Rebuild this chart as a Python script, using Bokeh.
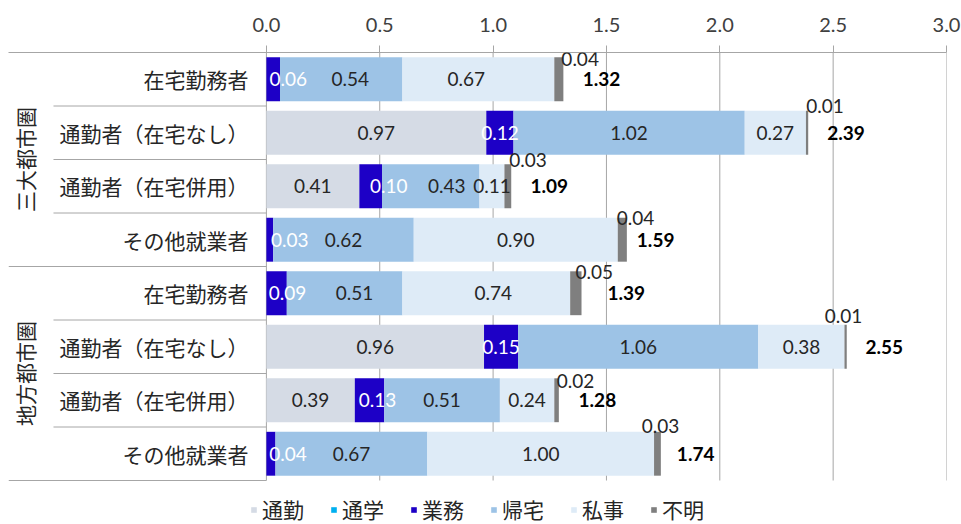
import math
from bokeh.plotting import figure
from bokeh.models import (ColumnDataSource, Range1d, FixedTicker, Legend, LegendItem,
                          CustomJSTickFormatter, LabelSet)
from bokeh.core.properties import value
from bokeh.embed import file_html
from bokeh.resources import INLINE

# ---------------- data ----------------
groups = ["三大都市圏", "地方都市圏"]
categories = ["在宅勤務者", "通勤者（在宅なし）", "通勤者（在宅併用）", "その他就業者"]
series = ["通勤", "通学", "業務", "帰宅", "私事", "不明"]
tsukin = [0.00, 0.97, 0.41, 0.00, 0.00, 0.96, 0.39, 0.00]
tsugaku = [0.00, 0.00, 0.00, 0.00, 0.00, 0.00, 0.00, 0.00]
gyomu = [0.06, 0.12, 0.10, 0.03, 0.09, 0.15, 0.13, 0.04]
kitaku = [0.54, 1.02, 0.43, 0.62, 0.51, 1.06, 0.51, 0.67]
shiji = [0.67, 0.27, 0.11, 0.90, 0.74, 0.38, 0.24, 1.00]
fumei = [0.04, 0.01, 0.03, 0.04, 0.05, 0.01, 0.02, 0.03]
totals = [1.32, 2.39, 1.09, 1.59, 1.39, 2.55, 1.28, 1.74]
ticks = [0.0, 0.5, 1.0, 1.5, 2.0, 2.5, 3.0]

colors = ["#d5dbe5", "#00b0f0", "#1d00c6", "#9dc3e6", "#deebf7", "#7f7f7f"]

# ---------------- styling / label nudges (pixels) ----------------
FONT = "Lato"
JP = "Noto Sans CJK JP"
TXT = "#262626"
GRID = "#a6a6a6"
seg_nudge = {(0, "業務"): 15, (0, "帰宅"): 9, (0, "私事"): -12,
             (2, "業務"): 18, (2, "帰宅"): 16,
             (3, "業務"): 20, (4, "業務"): 11, (4, "帰宅"): 10, (4, "私事"): 7,
             (6, "業務"): 8, (7, "業務"): 17}
fumei_dx = [0, 0, 0, -8, -4, -20, 0, -17]
fumei_dy = [-20, -27, -26, -22, -21, -31, -19, -28]
total_dx = [0, 2, 0, -7, 9, 4, 5, -1]

n = len(totals)
rows = [i + 0.5 for i in range(n)]
labels = [c for g in groups for c in categories]

vals = [tsukin, tsugaku, gyomu, kitaku, shiji, fumei]
src = ColumnDataSource(dict(y=rows, **{s: v for s, v in zip(series, vals)}))

XMIN = -1.1376
PX_PER_ROW = 53.5
FRAME_H = 472
p = figure(frame_width=938, frame_height=FRAME_H, output_backend="svg", toolbar_location=None,
           x_range=Range1d(XMIN, 3.0), y_range=Range1d(FRAME_H / PX_PER_ROW, 0),
           x_axis_location="above", y_axis_location=None,
           min_border_left=8, min_border_right=15, min_border_top=52, min_border_bottom=0)
p.outline_line_color = None
p.background_fill_color = "white"

# axis
ax = p.xaxis[0]
ax.ticker = FixedTicker(ticks=ticks)
ax.formatter = CustomJSTickFormatter(code="return tick.toFixed(1);")
ax.axis_line_color = GRID
ax.major_tick_line_color = GRID
ax.major_tick_out = 7
ax.major_tick_in = 0
ax.minor_tick_out = 0
ax.minor_tick_in = 0
ax.major_label_standoff = 14
ax.major_label_text_font = FONT
ax.major_label_text_font_size = "20px"
ax.major_label_text_color = "#404040"

p.xgrid.grid_line_color = None
p.ygrid.grid_line_color = None

# vertical grid lines, only over the rows
p.segment(x0=ticks, y0=[0] * len(ticks), x1=ticks, y1=[n] * len(ticks),
          line_color=GRID, line_width=1)

# bars
renderers = p.hbar_stack(series, y="y", height=0.82, color=colors, line_color=None,
                         source=src)

# left-side separator lines
x_inner = (53 - 266) / 226.8
sep_x0, sep_y = [], []
for k in range(1, n + 1):
    sep_y.append(k)
    sep_x0.append(XMIN if k % 4 == 0 else x_inner)
p.segment(x0=sep_x0, y0=sep_y, x1=[0] * len(sep_y), y1=sep_y, line_color=GRID, line_width=1)

# category labels
p.text(x=[0] * n, y=rows, text=labels, x_offset=-18, text_align="right", text_baseline="middle",
       text_font=value(JP), text_font_size="21px", text_color=TXT)

# group labels (vertical)
gx = (24 - 266) / 226.8
p.text(x=[gx, gx], y=[2, 6], text=groups, angle=math.pi / 2, text_align="center",
       text_baseline="middle", text_font=value(JP), text_font_size="21px", text_color=TXT)

# segment labels
lx, ly, lt, lc, lo = [], [], [], [], []
for i in range(n):
    left = 0.0
    for si, s in enumerate(series):
        v = vals[si][i]
        if s == "不明":
            continue
        if v > 0:
            lx.append(left + v / 2)
            ly.append(rows[i])
            lt.append(f"{v:.2f}")
            lc.append("white" if s == "業務" else TXT)
            lo.append(seg_nudge.get((i, s), 0))
        left += v
p.text(x=lx, y=ly, text=lt, x_offset=lo, text_color=lc, text_align="center",
       text_baseline="middle", text_font=value(FONT), text_font_size="19px")

# 不明 labels (above-right of the small segment)
fx, ft = [], []
for i in range(n):
    end = sum(vals[si][i] for si in range(5))
    fx.append(end + fumei[i])
    ft.append(f"{fumei[i]:.2f}")
fsrc = ColumnDataSource(dict(x=fx, y=rows, t=ft, dx=[d - 2 for d in fumei_dx],
                             dy=[-d for d in fumei_dy]))
p.add_layout(LabelSet(x="x", y="y", text="t", source=fsrc, x_offset="dx", y_offset="dy",
                      text_align="left", text_baseline="middle", text_font=value(FONT),
                      text_font_size="19px", text_color=TXT))

# totals
p.text(x=totals, y=rows, text=[f"{t:.2f}" for t in totals], x_offset=[17 + d for d in total_dx],
       text_align="left", text_baseline="middle", text_font=value(FONT), text_font_size="19px",
       text_font_style="bold", text_color="black")

# legend (inside the frame, below the rows)
legend = Legend(items=[LegendItem(label=s, renderers=[r]) for s, r in zip(series, renderers)],
                orientation="horizontal", location="bottom_center",
                glyph_width=7, glyph_height=7, label_standoff=5, spacing=26,
                padding=0, margin=0, border_line_color=None, background_fill_alpha=0,
                label_text_font=JP, label_text_font_size="21px", label_text_color=TXT)
p.add_layout(legend)

open("out.html", "w").write(file_html(p, INLINE))
